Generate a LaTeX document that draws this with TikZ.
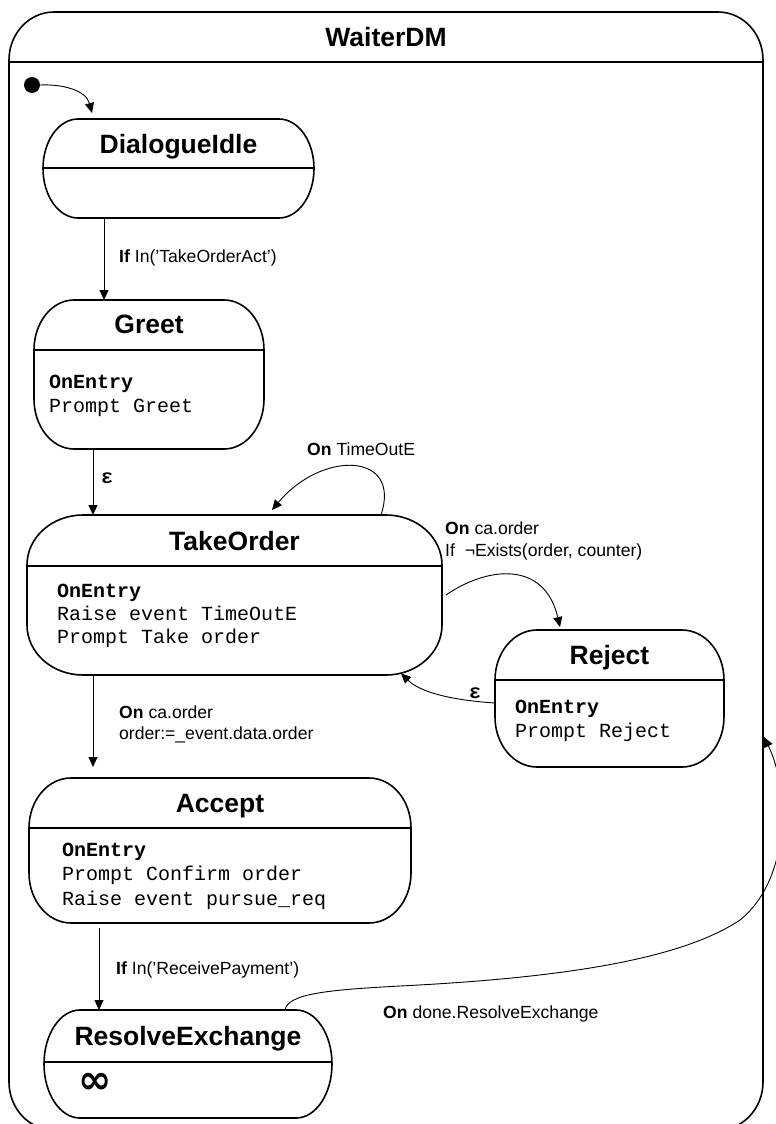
\documentclass[tikz,border=0pt]{standalone}
\usepackage{fontspec}
\setmainfont{Liberation Sans}
\newfontfamily\codefont{Liberation Mono}
\newfontfamily\symbfont{DejaVu Sans}
\usetikzlibrary{arrows.meta}

\tikzset{
  boxline/.style={line width=1.6pt, line join=round},
  sepline/.style={line width=1.6pt},
  conn/.style={line width=0.9pt, -{Triangle[length=10pt,width=9pt]}},
  area/.style={draw=none, inner sep=0pt, outer sep=0pt},
  titletext/.style={font=\fontsize{26.5}{30}\selectfont\bfseries, inner sep=0pt, text height=19pt, text depth=0pt},
  codetext/.style={font=\codefont\fontsize{20}{22}\selectfont, inner sep=0pt, anchor=west, text height=11.5pt, text depth=0pt},
  codehead/.style={codetext, font=\codefont\bfseries\fontsize{20}{22}\selectfont},
  labeltext/.style={font=\fontsize{17.6}{20}\selectfont, inner sep=0pt, anchor=west, text height=12.6pt, text depth=0pt},
  epstext/.style={font=\codefont\bfseries\fontsize{20}{22}\selectfont, inner sep=0pt}
}

% Rounded box with elliptical corners and a header separator.
% #1 node, #2 x radius, #3 y radius, #4 separator depth below the top edge
\newcommand\statebox[4]{%
  \begin{scope}
    \clip ([xshift=#2]#1.north west) -- ([xshift=-#2]#1.north east)
      arc[start angle=90,end angle=0,x radius=#2,y radius=#3]
      -- ([yshift=#3]#1.south east)
      arc[start angle=0,end angle=-90,x radius=#2,y radius=#3]
      -- ([xshift=#2]#1.south west)
      arc[start angle=-90,end angle=-180,x radius=#2,y radius=#3]
      -- ([yshift=-#3]#1.north west)
      arc[start angle=180,end angle=90,x radius=#2,y radius=#3] -- cycle;
    \draw[sepline] ([yshift=-#4]#1.north west) -- ([yshift=-#4]#1.north east);
  \end{scope}
  \draw[boxline] ([xshift=#2]#1.north west) -- ([xshift=-#2]#1.north east)
      arc[start angle=90,end angle=0,x radius=#2,y radius=#3]
      -- ([yshift=#3]#1.south east)
      arc[start angle=0,end angle=-90,x radius=#2,y radius=#3]
      -- ([xshift=#2]#1.south west)
      arc[start angle=-90,end angle=-180,x radius=#2,y radius=#3]
      -- ([yshift=-#3]#1.north west)
      arc[start angle=180,end angle=90,x radius=#2,y radius=#3] -- cycle;
}

\begin{document}
\begin{tikzpicture}[x=1pt,y=1pt]
\useasboundingbox (0,0) rectangle (776,-1124);

% outer state
\node[area, minimum width=754pt, minimum height=1118pt] (waiter) at (386,-571) {};
\statebox{waiter}{45pt}{48pt}{50pt}
\node[titletext] (waiterT) at ([yshift=-25pt]waiter.north) {WaiterDM};

% initial pseudo-state
\node[circle, fill=black, inner sep=0pt, minimum size=16pt] (init) at (32,-85) {};

% DialogueIdle
\node[area, minimum width=271pt, minimum height=99pt] (idle) at (178.5,-168.5) {};
\statebox{idle}{35pt}{49.5pt}{49pt}
\node[titletext] (idleT) at ([yshift=-24.5pt]idle.north) {DialogueIdle};

% Greet
\node[area, minimum width=230pt, minimum height=149pt] (greet) at (149,-374.5) {};
\statebox{greet}{40pt}{50pt}{50pt}
\node[titletext] (greetT) at ([yshift=-24pt]greet.north) {Greet};
\node[codehead] (greetE) at (49,-383) {OnEntry};
\node[codetext] (greetA) at (49,-407) {Prompt Greet};

% TakeOrder
\node[area, minimum width=415pt, minimum height=160pt] (take) at (234.5,-595) {};
\statebox{take}{56pt}{50pt}{51pt}
\node[titletext] (takeT) at ([yshift=-25.5pt]take.north) {TakeOrder};
\node[codehead] (takeE) at (57,-592) {OnEntry};
\node[codetext] (takeA) at (57,-615) {Raise event TimeOutE};
\node[codetext] (takeB) at (57,-638) {Prompt Take order};

% Reject
\node[area, minimum width=229pt, minimum height=137pt] (reject) at (609.5,-698.5) {};
\statebox{reject}{42pt}{50pt}{50pt}
\node[titletext] (rejectT) at ([yshift=-25pt]reject.north) {Reject};
\node[codehead] (rejectE) at (515,-708) {OnEntry};
\node[codetext] (rejectA) at (515,-732) {Prompt Reject};

% Accept
\node[area, minimum width=382pt, minimum height=145pt] (accept) at (220,-850.5) {};
\statebox{accept}{42pt}{50pt}{50pt}
\node[titletext] (acceptT) at ([yshift=-25pt]accept.north) {Accept};
\node[codehead] (acceptE) at (62,-851) {OnEntry};
\node[codetext] (acceptA) at (62,-875) {Prompt Confirm order};
\node[codetext] (acceptB) at (62,-900) {Raise event pursue\_req};

% ResolveExchange
\node[area, minimum width=288pt, minimum height=108pt] (resolve) at (188,-1064) {};
\statebox{resolve}{36pt}{54pt}{52pt}
\node[titletext] (resolveT) at ([yshift=-25.5pt]resolve.north) {ResolveExchange};
\node[font=\symbfont\bfseries\fontsize{40}{44}\selectfont, inner sep=0pt] (resolveInf) at (95,-1083) {∞};

% transitions
\draw[conn] (init.east) .. controls (62,-84) and (86,-90) .. ([shift={(49pt,6pt)}]idle.north west);

\draw[conn] ([xshift=61pt]idle.south west) -- ([xshift=70pt]greet.north west);
\node[labeltext] (lblIdle) at (119,-256) {\textbf{If} In(’TakeOrderAct’)};

\draw[conn] ([xshift=59pt]greet.south west) -- ([xshift=66pt]take.north west);
\node[epstext] (epsGreet) at (107,-478) {ε};

\draw[conn] ([xshift=354pt]take.north west) .. controls (402,-452) and (322,-450) .. ([shift={(245pt,5pt)}]take.north west);
\node[labeltext] (lblLoop) at (307,-449) {\textbf{On} TimeOutE};

\draw[conn] ([shift={(4pt,-80pt)}]take.north east) .. controls (490,-565) and (545,-562) .. ([shift={(65pt,3pt)}]reject.north west);
\node[labeltext] (lblRejA) at (445,-528) {\textbf{On} ca.order};
\node[labeltext] (lblRejB) at (445,-550) {If~ ¬Exists(order, counter)};

\draw[conn] ([yshift=-73pt]reject.north west) .. controls (450,-700) and (420,-692) .. ([shift={(-41pt,1.7pt)}]take.south east);
\node[epstext] (epsRej) at (475,-693) {ε};

\draw[conn] ([xshift=66pt]take.south west) -- ([shift={(64pt,11pt)}]accept.north west);
\node[labeltext] (lblAccA) at (119,-712) {\textbf{On} ca.order};
\node[labeltext] (lblAccB) at (119,-733) {order:=\_event.data.order};

\draw[conn] ([shift={(70pt,-5pt)}]accept.south west) -- ([xshift=55pt]resolve.north west);
\node[labeltext] (lblRes) at (116,-968) {\textbf{If} In(’ReceivePayment’)};

\draw[conn] ([xshift=241pt]resolve.north west) .. controls (288,-994) and (325,-990) .. (400,-986)
  .. controls (560,-978) and (680,-960) .. (740,-920)
  .. controls (790,-880) and (790,-790) .. ([shift={(1pt,-166pt)}]waiter.east);
\node[labeltext] (lblDone) at (383,-1012) {\textbf{On} done.ResolveExchange};
\end{tikzpicture}
\end{document}
